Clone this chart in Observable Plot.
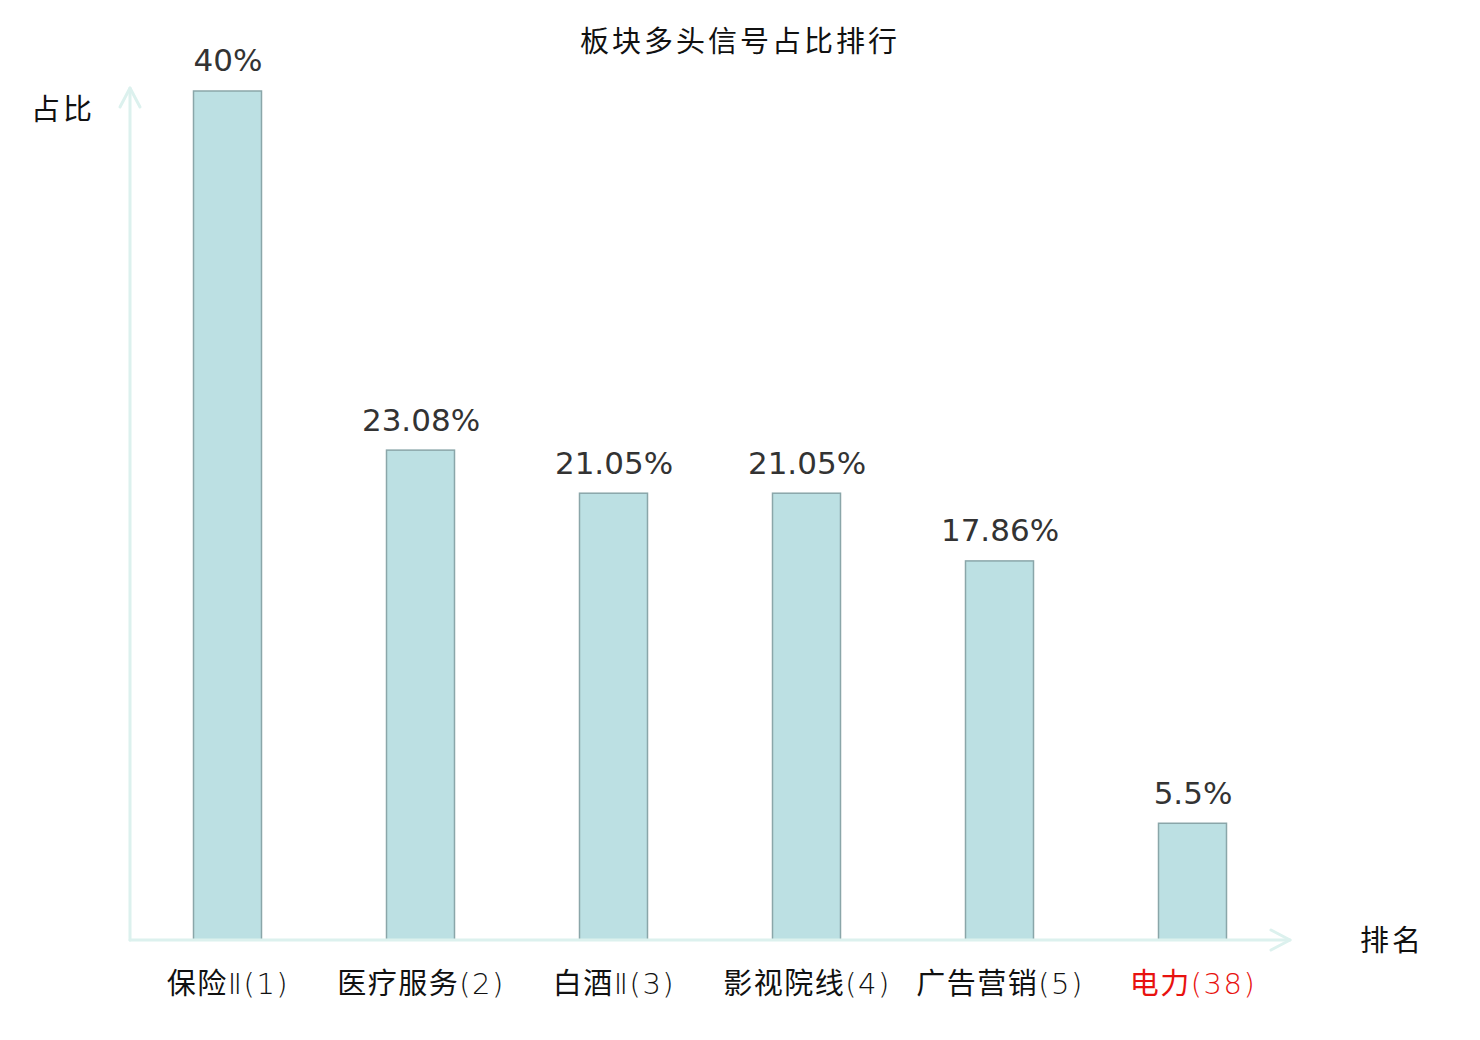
<!DOCTYPE html>
<html><head><meta charset="utf-8">
<script src="https://cdn.jsdelivr.net/npm/d3@7"></script>
<script src="https://cdn.jsdelivr.net/npm/@observablehq/plot@0.6"></script>
<style>
body{margin:0;background:#fff;}
#chart{position:relative;width:1480px;height:1040px;}
</style>
</head><body><div id="chart"></div>
<script>
const categories = ["保险Ⅱ(1)", "医疗服务(2)", "白酒Ⅱ(3)", "影视院线(4)", "广告营销(5)", "电力(38)"];
const values = [40, 23.08, 21.05, 21.05, 17.86, 5.5];
const valueLabels = ["40%", "23.08%", "21.05%", "21.05%", "17.86%", "5.5%"];
const highlighted = ["电力(38)"];
const title = "板块多头信号占比排行";
const yLabel = "占比";
const xLabel = "排名";

const data = categories.map((c, i) => ({name: c, value: values[i], label: valueLabels[i]}));

const W = 1480, H = 1040;
const mL = 130, mR = 190, mT = 91, mB = 100;
const axisColor = "#dcf1ee";
const cjk = "'Noto Sans CJK SC', 'Noto Sans', sans-serif";
const tickFont = "'DejaVu Sans', 'Noto Sans CJK SC', sans-serif";
const num = "'DejaVu Sans', 'Noto Sans CJK SC', sans-serif";

const axesMark = (index, scales, values, dims) => {
  const ns = "http://www.w3.org/2000/svg";
  const g = document.createElementNS(ns, "g");
  g.setAttribute("fill", "none");
  g.setAttribute("stroke", axisColor);
  g.setAttribute("stroke-width", 3);
  g.setAttribute("stroke-linecap", "round");
  g.setAttribute("stroke-linejoin", "round");
  const x0 = dims.marginLeft, y0 = dims.height - dims.marginBottom;
  const x1 = dims.width - dims.marginRight, yTop = dims.marginTop - 3;
  const p = (d) => { const e = document.createElementNS(ns, "path"); e.setAttribute("d", d); g.appendChild(e); };
  p(`M${x0},${y0}L${x1},${y0}`);
  p(`M${x0},${y0}L${x0},${yTop}`);
  p(`M${x1-19},${y0-10}L${x1},${y0}L${x1-19},${y0+10}`);
  p(`M${x0-10},${yTop+19}L${x0},${yTop}L${x0+10},${yTop+19}`);
  return g;
};

const tickOpts = {x: "name", y: 0, text: "name", dy: 44, fontSize: 29, fontFamily: tickFont};

const plot = Plot.plot({
  width: W, height: H,
  marginLeft: mL, marginRight: mR, marginTop: mT, marginBottom: mB,
  x: {domain: categories, padding: 0, axis: null},
  y: {domain: [0, 40], axis: null},
  marks: [
    Plot.barY(data, {x: "name", y: "value", fill: "#bce0e3", stroke: "#8aa6a9", strokeWidth: 1.5, insetLeft: 62.5, insetRight: 62.5}),
    axesMark,
    Plot.text(data, {x: "name", y: "value", text: "label", dy: -30, fontSize: 31, fill: "#333", fontFamily: num}),
    Plot.text(data.filter(d => !highlighted.includes(d.name)), {...tickOpts, fill: "#111"}),
    Plot.text(data.filter(d => highlighted.includes(d.name)), {...tickOpts, fill: "#e8120f"})
  ]
});

const svg = d3.select(plot);
// tick labels: CJK glyphs regular, latin glyphs thin (as in the reference)
const isCJK = ch => /[\u3000-\u9fff\uff00-\uffef]/.test(ch);
svg.selectAll("text").each(function(){
  const t = this.textContent;
  if (!categories.includes(t)) return;
  this.setAttribute("letter-spacing", 1.5);
  this.textContent = "";
  let runs = [];
  for (const ch of t) {
    const c = isCJK(ch);
    if (runs.length && runs[runs.length-1].c === c) runs[runs.length-1].s += ch;
    else runs.push({c, s: ch});
  }
  for (const r of runs) {
    const ts = document.createElementNS("http://www.w3.org/2000/svg", "tspan");
    if (!r.c) ts.setAttribute("font-weight", 200);
    ts.textContent = r.s;
    this.appendChild(ts);
  }
});

const addText = (x, y, t, size) => svg.append("text").attr("x", x).attr("y", y)
  .attr("text-anchor", "middle").attr("dominant-baseline", "middle")
  .attr("font-size", size).attr("font-family", cjk)
  .attr("letter-spacing", 3).attr("fill", "#111").text(t);
addText(740, 44, title, 29);
addText(63, 112, yLabel, 29);
addText(1392, 943, xLabel, 29);

document.getElementById("chart").appendChild(plot);
</script>
</body></html>
